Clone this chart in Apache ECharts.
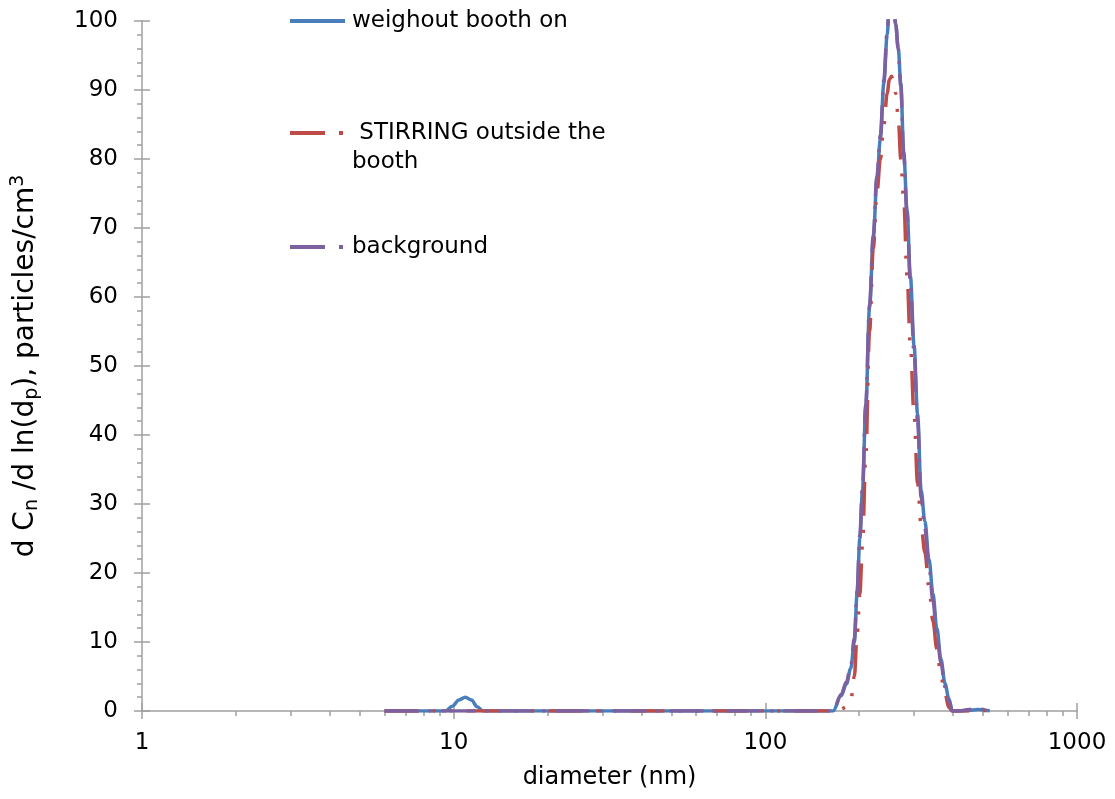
<!DOCTYPE html>
<html>
<head>
<meta charset="utf-8">
<script src="https://cdn.jsdelivr.net/npm/echarts@6/dist/echarts.min.js"></script>
<style>
html,body{margin:0;padding:0;background:#ffffff;}
#chart{width:1115px;height:799px;}
</style>
</head>
<body>
<div id="chart"></div>
<script>
// ---- data ----
const diameters = [6, 7, 8, 8.5, 9.4, 9.9, 10.4, 10.9, 11.4, 11.9, 12.4, 14, 20, 30, 50, 80, 120, 150, 165, 175, 182, 188,
  193, 197, 201, 205, 210, 216, 222, 228, 234, 240, 246, 250, 254, 258, 262, 267, 272, 278, 285, 292,
  300, 308, 316, 325, 335, 345, 355, 366, 377, 388, 398, 420, 450, 480, 525];

const weighoutBoothOn = [0, 0, 0, 0, 0, 0.7, 1.6, 2.0, 1.6, 0.6, 0, 0, 0, 0, 0, 0, 0, 0, 0, 2.2, 3.9, 6.2,
  10, 17, 25, 32, 44, 58.5, 68.5, 77, 83, 91, 98, 102.5, 104, 103, 99.5, 96, 91, 81, 72.5, 63,
  53, 43, 32, 27.5, 22, 17, 12, 7.5, 4, 1.8, 0, 0, 0.1, 0.2, 0];

const stirringOutside = [0, 0, 0, 0, 0, 0, 0, 0, 0, 0, 0, 0, 0, 0, 0, 0, 0, 0, 0, 0.3, 0.6, 1.5,
  5, 11, 17, 24, 37, 55, 67, 75, 80, 85, 89.5, 91.5, 92, 91, 89.5, 86, 80, 74, 63, 53,
  43, 33, 27, 23, 18, 13, 9, 5, 2.5, 0.5, 0, 0, 0, 0.1, 0];

const backgroundVals = [0, 0, 0, 0, 0, 0, 0, 0, 0, 0, 0, 0, 0, 0, 0, 0, 0, 0, 0, 2.4, 4.2, 6.6,
  10.5, 17.5, 25.5, 32.5, 44.5, 59, 69, 77.5, 83.5, 91.5, 98.5, 102.5, 104, 103, 99.5, 96, 90.5, 80.5, 72, 62,
  52, 42, 31, 26.5, 21, 16, 11, 7, 3.5, 1.5, 0, 0, 0.2, 0.3, 0];

const seriesNames = ['weighout booth on', 'STIRRING outside the booth', 'background'];
const xMajorTicks = [1, 10, 100, 1000];
const xMinorTicks = [2, 3, 4, 5, 6, 7, 8, 9, 20, 30, 40, 50, 60, 70, 80, 90, 200, 300, 400, 500, 600, 700, 800, 900];

// ---- chart ----
const pairs = vals => diameters.map((d, i) => [d, vals[i]]);
const axisGray = '#a0a0a0';
const tickFont = {fontFamily: 'DejaVu Sans', fontSize: 23, color: '#000'};
const legendText = {fontFamily: 'DejaVu Sans', fontSize: 23, color: '#000', lineHeight: 28};

const chart = echarts.init(document.getElementById('chart'), null, {renderer: 'canvas'});
const legendBase = {
  orient: 'vertical', left: 290, itemHeight: 4, padding: 0, itemGap: 0,
  selectedMode: false, itemStyle: {borderWidth: 0}
};
const option = {
  animation: false,
  backgroundColor: '#ffffff',
  grid: {left: 142, right: 38, top: 21, bottom: 88},
  legend: [
    Object.assign({}, legendBase, {
      top: 7, data: [seriesNames[0]], itemWidth: 55,
      icon: 'path://M0,0H55V4H0Z',
      textStyle: Object.assign({}, legendText, {padding: [0, 0, 0, 2]})
    }),
    Object.assign({}, legendBase, {
      top: 89.5, data: [seriesNames[1]], itemWidth: 53,
      icon: 'path://M0,0H35V4H0Z M49,0H53V4H49Z',
      formatter: () => ' \n STIRRING outside the\nbooth',
      textStyle: Object.assign({}, legendText, {lineHeight: 29, padding: [0, 0, 0, 4]})
    }),
    Object.assign({}, legendBase, {
      top: 233, data: [seriesNames[2]], itemWidth: 53,
      icon: 'path://M0,0H35V4H0Z M49,0H53V4H49Z',
      textStyle: Object.assign({}, legendText, {padding: [0, 0, 0, 4]})
    })
  ],
  xAxis: [
    {
      type: 'log', logBase: 10, min: 1, max: 1000,
      name: 'diameter (nm)', nameLocation: 'middle', nameGap: 55,
      nameTextStyle: {fontFamily: 'DejaVu Sans', fontSize: 24, color: '#000'},
      axisLine: {lineStyle: {color: axisGray, width: 1.5}},
      axisTick: {customValues: xMinorTicks, length: 5, lineStyle: {color: axisGray, width: 1.5}},
      axisLabel: Object.assign({margin: 21, customValues: xMajorTicks, formatter: v => String(v)}, tickFont),
      splitLine: {show: false}, minorSplitLine: {show: false}
    },
    {
      type: 'log', logBase: 10, min: 1, max: 1000, position: 'bottom', offset: -8,
      axisLine: {show: false},
      axisTick: {customValues: xMajorTicks, length: 16, lineStyle: {color: axisGray, width: 1.5}},
      axisLabel: {show: false}, splitLine: {show: false}
    }
  ],
  yAxis: [
    {
      type: 'value', min: 0, max: 100, interval: 10,
      name: '{n|d C}{sub|n}{n| /d ln(d}{sub|p}{n|), particles/cm}{sup|3}',
      nameLocation: 'middle', nameGap: 100,
      nameTextStyle: {
        rich: {
          n: {fontFamily: 'DejaVu Sans', fontSize: 28, color: '#000', lineHeight: 33},
          sub: {fontFamily: 'DejaVu Sans', fontSize: 19, color: '#000', lineHeight: 19, verticalAlign: 'bottom'},
          sup: {fontFamily: 'DejaVu Sans', fontSize: 19, color: '#000', lineHeight: 19, verticalAlign: 'top'}
        }
      },
      axisLine: {show: true, lineStyle: {color: axisGray, width: 1.5}},
      axisTick: {show: false},
      minorTick: {show: true, splitNumber: 5, length: 5, lineStyle: {color: axisGray, width: 1.5}},
      axisLabel: Object.assign({margin: 24}, tickFont),
      splitLine: {show: false}, minorSplitLine: {show: false}
    },
    {
      type: 'value', min: 0, max: 100, interval: 10, position: 'left', offset: -8,
      axisLine: {show: false},
      axisTick: {show: true, length: 16, lineStyle: {color: axisGray, width: 1.5}},
      axisLabel: {show: false}, splitLine: {show: false}
    }
  ],
  series: [
    {
      name: seriesNames[0], type: 'line', data: pairs(weighoutBoothOn), symbol: 'none',
      smooth: 0.35, smoothMonotone: 'x', clip: true,
      lineStyle: {color: '#4a7ebb', width: 3.5}, itemStyle: {color: '#4a7ebb'}
    },
    {
      name: seriesNames[1], type: 'line', data: pairs(stirringOutside), symbol: 'none',
      smooth: 0.35, smoothMonotone: 'x', clip: true,
      lineStyle: {color: '#be4b48', width: 3.5, type: [34, 14, 3, 14, 3, 14]}, itemStyle: {color: '#be4b48'}
    },
    {
      name: seriesNames[2], type: 'line', data: pairs(backgroundVals), symbol: 'none',
      smooth: 0.35, smoothMonotone: 'x', clip: true,
      lineStyle: {color: '#7d60a0', width: 3.5, type: [34, 10, 3, 10]}, itemStyle: {color: '#7d60a0'}
    }
  ]
};
chart.setOption(option);
</script>
</body>
</html>
